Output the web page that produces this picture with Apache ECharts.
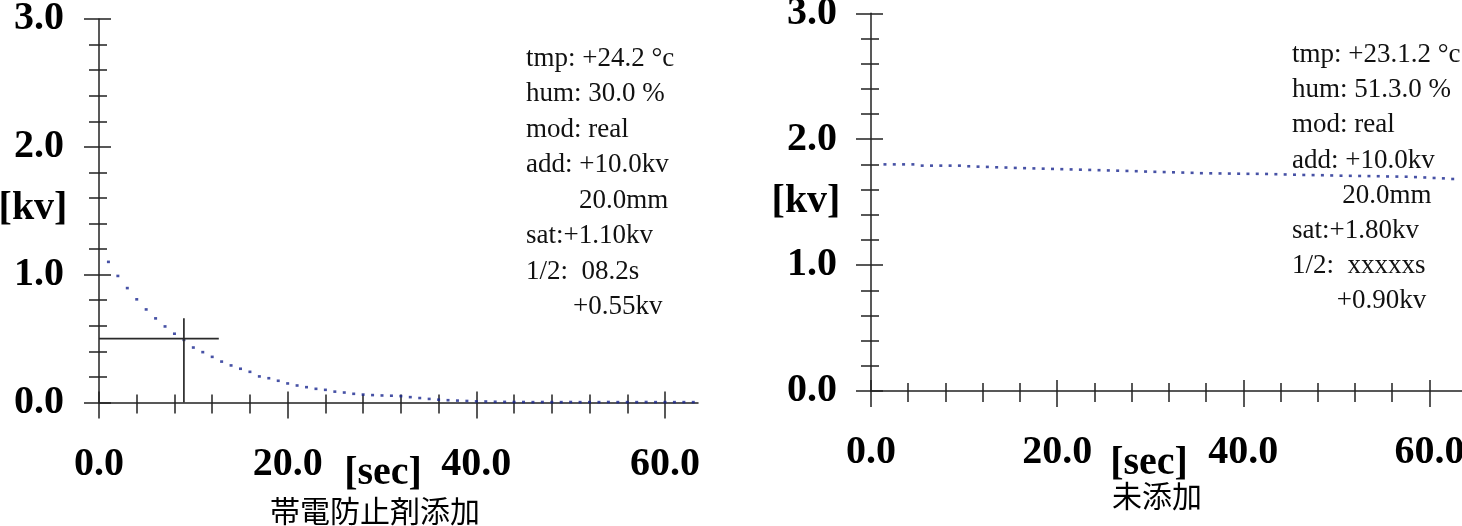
<!DOCTYPE html>
<html><head><meta charset="utf-8">
<script src="https://cdn.jsdelivr.net/npm/echarts@6/dist/echarts.min.js"></script>
<style>html,body{margin:0;padding:0;background:#fff}#c{width:1462px;height:526px}</style>
</head><body><div id="c"></div>
<script>
// ---- data ----
const timeLeft = [1,2,3,4,5,6,7,8,9,10,11,12,13,14,15,16,17,18,19,20,21,22,23,24,25,26,27,28,29,30,31,32,33,34,35,36,37,38,39,40,41,42,43,44,45,46,47,48,49,50,51,52,53,54,55,56,57,58,59,60,61,62,63];
const voltLeft = [1.10,0.99,0.895,0.807,0.728,0.658,0.595,0.538,0.49,0.43,0.394,0.357,0.32,0.29,0.264,0.24,0.204,0.19,0.17,0.149,0.133,0.12,0.107,0.099,0.085,0.078,0.068,0.062,0.058,0.055,0.053,0.05,0.042,0.035,0.028,0.022,0.018,0.015,0.012,0.009,0.008,0.006,0.005,0.004,0.004,0.003,0.004,0.003,0.003,0.004,0.003,0.003,0.003,0.004,0.003,0.003,0.003,0.004,0.003,0.003,0.003,0.003,0.003];
const timeRight = [1.5,2.5,3.5,4.5,5.5,6.5,7.5,8.5,9.5,10.5,11.5,12.5,13.5,14.5,15.5,16.5,17.5,18.5,19.5,20.5,21.5,22.5,23.5,24.5,25.5,26.5,27.5,28.5,29.5,30.5,31.5,32.5,33.5,34.5,35.5,36.5,37.5,38.5,39.5,40.5,41.5,42.5,43.5,44.5,45.5,46.5,47.5,48.5,49.5,50.5,51.5,52.5,53.5,54.5,55.5,56.5,57.5,58.5,59.5,60.5,61.5,62.5];
const voltRight = [1.80,1.80,1.80,1.80,1.79,1.79,1.79,1.79,1.79,1.785,1.782,1.78,1.777,1.775,1.772,1.77,1.768,1.766,1.764,1.762,1.760,1.758,1.756,1.754,1.752,1.750,1.748,1.746,1.743,1.741,1.739,1.737,1.735,1.733,1.730,1.729,1.728,1.727,1.726,1.725,1.725,1.724,1.722,1.720,1.718,1.716,1.715,1.714,1.712,1.710,1.709,1.708,1.707,1.706,1.704,1.703,1.702,1.699,1.696,1.692,1.689,1.684];
const crossHTime = [0, 12.7], crossHVolt = [0.5, 0.5];
const crossVTime = [9.0, 9.0], crossVVolt = [0, 0.66];
const xMajorTicks = [0, 20, 40, 60];
const xMinorTicks = [4, 8, 12, 16, 24, 28, 32, 36, 44, 48, 52, 56];
const yMajorTicks = [0, 1, 2, 3];
const yMinorTicks = [0.2, 0.4, 0.6, 0.8, 1.2, 1.4, 1.6, 1.8, 2.2, 2.4, 2.6, 2.8];
const infoLeft = ['tmp: +24.2 °c', 'hum: 30.0 %', 'mod: real', 'add: +10.0kv', '20.0mm', 'sat:+1.10kv', '1/2:  08.2s', '+0.55kv'];
const infoRight = ['tmp: +23.1.2 °c', 'hum: 51.3.0 %', 'mod: real', 'add: +10.0kv', '20.0mm', 'sat:+1.80kv', '1/2:  xxxxxs', '+0.90kv'];
const subtitleLeft = '帯電防止剤添加';
const subtitleRight = '未添加';
const yUnit = '[kv]';
const xUnit = '[sec]';

// ---- layout ----
const SERIF = '"Liberation Serif","Times New Roman",serif';
const AX = '#222';
const XMAX = 63.5;
const zip = (a, b) => a.map((v, i) => [v, b[i]]);

function mkX(g, ticks, inside, len, main) {
  return {
    type: 'value', gridIndex: g, min: 0, max: XMAX, position: 'bottom', offset: 0,
    axisLine: { show: main, onZero: false, lineStyle: { color: AX, width: 1.5 } },
    axisTick: { show: true, customValues: ticks, inside: inside, length: len, lineStyle: { color: AX, width: 1.5 } },
    axisLabel: main ? { show: true, customValues: xMajorTicks, formatter: v => v.toFixed(1), color: '#000',
      fontFamily: SERIF, fontWeight: 'bold', fontSize: 40, margin: 62, verticalAlign: 'middle' } : { show: false },
    splitLine: { show: false }, minorTick: { show: false }
  };
}
function mkY(g, ticks, inside, len, main, margin) {
  return {
    type: 'value', gridIndex: g, min: 0, max: 3, position: 'left', offset: 0,
    axisLine: { show: main, onZero: false, lineStyle: { color: AX, width: 1.5 } },
    axisTick: { show: true, customValues: ticks, inside: inside, length: len, lineStyle: { color: AX, width: 1.5 } },
    axisLabel: main ? { show: true, customValues: yMajorTicks, formatter: v => v.toFixed(1), color: '#000',
      fontFamily: SERIF, fontWeight: 'bold', fontSize: 40, margin: margin, verticalAlign: 'middle' } : { show: false },
    splitLine: { show: false }, minorTick: { show: false }
  };
}
function axesX(g) {
  return [mkX(g, xMajorTicks, false, 16, true), mkX(g, xMajorTicks, true, 11, false),
          mkX(g, xMinorTicks, false, 11, false), mkX(g, xMinorTicks, true, 8, false)];
}
function axesY(g, margin) {
  return [mkY(g, yMajorTicks, false, 15, true, margin), mkY(g, yMajorTicks, true, 12, false, margin),
          mkY(g, yMinorTicks, false, 10, false, margin), mkY(g, yMinorTicks, true, 8, false, margin)];
}

function txt(text, x, y, font, align, valign, color) {
  return { type: 'text', x: x, y: y, silent: true,
    style: { text: text, font: font, fill: color || '#000', textAlign: align, textVerticalAlign: valign, align: align, verticalAlign: valign } };
}
const infoFont = '27px ' + SERIF;
const unitFont = 'bold 40px ' + SERIF;
const cjkFont = '30px "Noto Sans CJK JP","Noto Sans CJK SC",sans-serif';
const indent = [0, 0, 0, 0, 53, 0, 0, 47];
const graphics = [];
infoLeft.forEach((s, i) => graphics.push(txt(s, 526 + indent[i], 58.5 + i * 35.5, infoFont, 'left', 'middle', '#111')));
infoRight.forEach((s, i) => graphics.push(txt(s, 1292 + indent[i] * 0.95, 55 + i * 35.2, infoFont, 'left', 'middle', '#111')));
graphics.push(txt(yUnit, 33, 209, unitFont, 'center', 'middle'));
graphics.push(txt(yUnit, 806, 201.5, unitFont, 'center', 'middle'));
graphics.push(txt(xUnit, 383, 474, unitFont, 'center', 'middle'));
graphics.push(txt(xUnit, 1149, 464, unitFont, 'center', 'middle'));
graphics.push(txt(subtitleLeft, 375, 511, cjkFont, 'center', 'middle'));
graphics.push(txt(subtitleRight, 1157, 496, cjkFont, 'center', 'middle'));

const dotStyle = { type: 'scatter', symbol: 'rect', symbolSize: [3, 2.6], itemStyle: { color: '#18258e' }, silent: true };
const crossStyle = { type: 'line', symbol: 'none', lineStyle: { color: '#2a2a2a', width: 1.7 }, silent: true };

const option = {
  backgroundColor: '#fff',
  animation: false,
  grid: [
    { left: 99, top: 19, width: 599, height: 383.5, containLabel: false, outerBoundsMode: 'none' },
    { left: 871, top: 13.3, width: 591, height: 377.7, containLabel: false, outerBoundsMode: 'none' }
  ],
  xAxis: [...axesX(0), ...axesX(1)],
  yAxis: [...axesY(0, 35), ...axesY(1, 34)],
  series: [
    Object.assign({}, crossStyle, { xAxisIndex: 0, yAxisIndex: 0, data: zip(crossHTime, crossHVolt) }),
    Object.assign({}, crossStyle, { xAxisIndex: 0, yAxisIndex: 0, data: zip(crossVTime, crossVVolt) }),
    Object.assign({}, dotStyle, { xAxisIndex: 0, yAxisIndex: 0, data: zip(timeLeft, voltLeft) }),
    Object.assign({}, dotStyle, { xAxisIndex: 4, yAxisIndex: 4, data: zip(timeRight, voltRight) })
  ],
  graphic: graphics
};
const chart = echarts.init(document.getElementById('c'), null, { renderer: 'canvas' });
chart.setOption(option);
</script></body></html>
